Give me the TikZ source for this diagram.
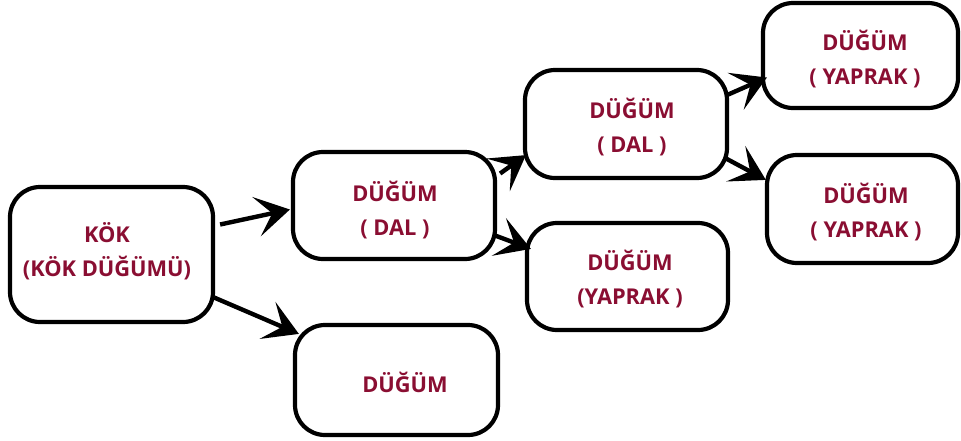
\documentclass[tikz,border=0pt]{standalone}
\usepackage{fontspec}
\setmainfont{Open Sans}
\usetikzlibrary{arrows.meta,calc}
\definecolor{wine}{RGB}{138,14,50}
\begin{document}
\begin{tikzpicture}[x=1pt,y=-1pt,
  nodebox/.style={draw=black,line width=4.2pt,rounded corners=30pt,fill=white,inner sep=0pt},
  label/.style={text=wine,font=\bfseries\fontsize{21.8}{34}\selectfont,align=center,inner sep=0pt},
  arr/.style={line width=4.4pt,-{Stealth[length=34pt,width=40pt,inset=16pt]}}]
\useasboundingbox (0,0) rectangle (961,440);
% boxes, placed by their centres
\node[nodebox,minimum width=203pt,minimum height=135pt] (kok) at (111.5,254.5) {};
\node[nodebox,minimum width=202pt,minimum height=107pt] (dal1) at (394,205.5) {};
\node[nodebox,minimum width=203pt,minimum height=110pt] (leaf0) at (396.5,380) {};
\node[nodebox,minimum width=202pt,minimum height=108pt] (dal2) at (626,124) {};
\node[nodebox,minimum width=201pt,minimum height=107pt] (leaf1) at (627.5,276.5) {};
\node[nodebox,minimum width=195pt,minimum height=105pt] (leaf2) at (860.5,55.5) {};
\node[nodebox,minimum width=191pt,minimum height=108pt] (leaf3) at (862.5,209) {};
% texts
\node[label] (tkok) at (107,251.5) {KÖK\\(KÖK DÜĞÜMÜ)};
\node[label] (tdal1) at (395,210) {DÜĞÜM\\( DAL )};
\node[label] (tleaf0) at (405,382) {DÜĞÜM};
\node[label] (tdal2) at (632,127.5) {DÜĞÜM\\( DAL )};
\node[label] (tleaf1) at (630,279) {DÜĞÜM\\(YAPRAK )};
\node[label] (tleaf2) at (865,59.5) {DÜĞÜM\\( YAPRAK )};
\node[label] (tleaf3) at (866,212.5) {DÜĞÜM\\( YAPRAK )};
% connector ends
\coordinate (a1s) at ($(kok.east)+(5,-30)$);
\coordinate (a1e) at ($(dal1.west)+(-1,4)$);
\coordinate (a2s) at ($(kok.east)+(-1,43)$);
\coordinate (a2e) at ($(leaf0.north west)+(6,11)$);
\coordinate (a3s) at ($(dal1.east)+(3,-32)$);
\coordinate (a3e) at ($(dal2.south west)+(3,-25)$);
\coordinate (a4s) at ($(dal1.east)+(-2,30)$);
\coordinate (a4e) at ($(leaf1.north west)+(6,28)$);
\coordinate (a5s) at ($(dal2.east)+(-2,-29)$);
\coordinate (a5e) at ($(leaf2.west)+(6,22)$);
\coordinate (a6s) at ($(dal2.east)+(-4,34)$);
\coordinate (a6e) at ($(leaf3.north west)+(1,27)$);
\draw[arr] (a1s) -- (a1e);
\draw[arr] (a2s) -- (a2e);
\draw[arr] (a3s) -- (a3e);
\draw[arr] (a4s) -- (a4e);
\draw[arr] (a5s) -- (a5e);
\draw[arr] (a6s) -- (a6e);
\end{tikzpicture}
\end{document}
